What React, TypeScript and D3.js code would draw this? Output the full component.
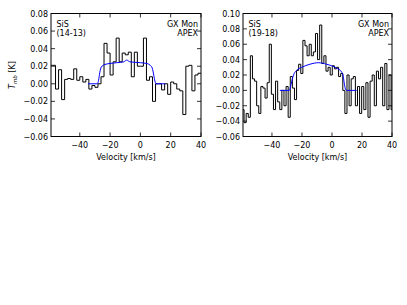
import React from 'react';
import * as d3 from 'd3';

// ---------- data ----------
const VEL_TICKS = [-40, -20, 0, 20, 40];
const LEFT_Y_TICKS = [-0.06, -0.04, -0.02, 0.0, 0.02, 0.04, 0.06, 0.08];
const RIGHT_Y_TICKS = [-0.06, -0.04, -0.02, 0.0, 0.02, 0.04, 0.06, 0.08, 0.1];

// SiS (14-13): channel start velocity, width, values (K)
const LEFT_V0 = -60;
const LEFT_DV = 2.0;
const LEFT_VALUES = [
  0.021, 0.021, -0.006, 0.016, -0.018, 0.005, 0.006, 0.005, 0.017, 0.004,
  0.008, 0.002, 0.005, -0.006, -0.002, -0.004, 0.0, 0.008, 0.046, 0.035,
  0.01, 0.025, 0.052, 0.025, 0.035, 0.033, 0.036, 0.008, 0.036, 0.02,
  0.02, 0.052, 0.004, 0.008, -0.02, 0.0, 0.0, -0.007, 0.0, -0.012,
  0.002, 0.0, -0.006, -0.008, -0.035, 0.02, 0.021, -0.008, 0.01, 0.012,
];
const LEFT_FIT_V = [-34.6, -28.5, -27.6, -26.8, -25.8, -23.4, -15.6, -11, -9, -7, 0, 4.5, 6.5, 7.8, 8.8, 9.6, 10.5, 16.4];
const LEFT_FIT_T = [0, 0, 0.004, 0.013, 0.019, 0.022, 0.024, 0.025, 0.027, 0.025, 0.024, 0.023, 0.021, 0.018, 0.01, 0.003, 0, 0];

// SiS (19-18)
const RIGHT_V0 = -60;
const RIGHT_DV = 1.4;
const RIGHT_VALUES = [
  -0.025, -0.042, -0.03, -0.035, 0.045, 0.015, 0.012, -0.02, -0.03, 0.005,
  0.003, -0.01, 0.01, 0.06, -0.005, -0.025, 0.012, -0.015, -0.025, 0.0,
  -0.02, 0.005, -0.035, 0.018, 0.003, -0.012, 0.026, 0.034, 0.022, 0.065,
  0.058, 0.045, 0.06, 0.045, 0.05, 0.074, 0.04, 0.085, 0.035, 0.045,
  0.025, 0.03, 0.02, 0.032, 0.028, 0.03, 0.018, 0.022, 0.0, -0.03,
  0.02, -0.02, 0.015, 0.018, -0.02, 0.005, -0.03, 0.005, -0.025, 0.01,
  -0.035, 0.012, 0.02, -0.02, 0.025, 0.015, 0.03, -0.02, 0.035, -0.025,
  0.02, -0.025,
];
const RIGHT_FIT_V = [-34.7, -28.4, -27.5, -26.9, -25.8, -23.6, -20.2, -14.7, -9.1, -3.6, 3.1, 6.4, 7.5, 8.3, 9.1, 10, 16.4];
const RIGHT_FIT_T = [0, 0, 0.006, 0.011, 0.019, 0.026, 0.03, 0.034, 0.036, 0.034, 0.029, 0.024, 0.018, 0.008, 0.001, 0, 0];

const FONT = 'DejaVu Sans';
const FS = 8;
const MINUS = '\u2212';

function fmtY(v: number) {
  const s = Math.abs(v).toFixed(2);
  return (v < -1e-9 ? MINUS : '') + s;
}
function fmtX(v: number) {
  return (v < 0 ? MINUS : '') + Math.abs(v).toString();
}

type PanelProps = {
  id: string;
  left: number;
  right: number;
  top: number;
  bottom: number;
  xDomain: [number, number];
  yDomain: [number, number];
  yTicks: number[];
  v0: number;
  dv: number;
  values: number[];
  fitV: number[];
  fitT: number[];
  line: string;
  showYLabel: boolean;
};

function Panel(p: PanelProps) {
  const x = d3.scaleLinear().domain(p.xDomain).range([p.left, p.right]);
  const y = d3.scaleLinear().domain(p.yDomain).range([p.bottom, p.top]);

  const steps: [number, number][] = p.values.map((v, i) => [p.v0 + i * p.dv, v]);
  steps.push([p.v0 + p.values.length * p.dv, p.values[p.values.length - 1]]);
  const stepPath = d3
    .line<[number, number]>()
    .x((d) => x(d[0]))
    .y((d) => y(d[1]))
    .curve(d3.curveStepAfter)(steps) as string;

  const fit: [number, number][] = p.fitV.map((v, i) => [v, p.fitT[i]]);
  const fitPath = d3
    .line<[number, number]>()
    .x((d) => x(d[0]))
    .y((d) => y(d[1]))
    .curve(d3.curveMonotoneX)(fit) as string;

  const tl = 4;
  const cx = (p.left + p.right) / 2;
  const cy = (p.top + p.bottom) / 2;

  return (
    <g fontFamily={FONT} fontSize={FS} fill="#000">
      <defs>
        <clipPath id={p.id}>
          <rect x={p.left} y={p.top} width={p.right - p.left} height={p.bottom - p.top} />
        </clipPath>
      </defs>
      <g clipPath={`url(#${p.id})`}>
        <path d={stepPath} fill="none" stroke={p.line} strokeWidth={1} />
        <path d={fitPath} fill="none" stroke="#0000ff" strokeWidth={1} />
      </g>
      <rect
        x={p.left}
        y={p.top}
        width={p.right - p.left}
        height={p.bottom - p.top}
        fill="none"
        stroke="#000"
        strokeWidth={1}
      />
      {VEL_TICKS.map((t) => (
        <g key={'x' + t}>
          <line x1={x(t)} x2={x(t)} y1={p.bottom} y2={p.bottom - tl} stroke="#000" strokeWidth={0.8} />
          <line x1={x(t)} x2={x(t)} y1={p.top} y2={p.top + tl} stroke="#000" strokeWidth={0.8} />
          <text x={x(t)} y={p.bottom + 11} textAnchor="middle">
            {fmtX(t)}
          </text>
        </g>
      ))}
      {p.yTicks.map((t) => (
        <g key={'y' + t}>
          <line x1={p.left} x2={p.left + tl} y1={y(t)} y2={y(t)} stroke="#000" strokeWidth={0.8} />
          <line x1={p.right} x2={p.right - tl} y1={y(t)} y2={y(t)} stroke="#000" strokeWidth={0.8} />
          <text x={p.left - 3} y={y(t) + 3} textAnchor="end">
            {fmtY(t)}
          </text>
        </g>
      ))}
      <text x={cx} y={p.bottom + 23} textAnchor="middle">
        Velocity [km/s]
      </text>
      {p.showYLabel && (
        <text transform={`translate(${p.left - 36},${cy}) rotate(-90)`} textAnchor="middle">
          <tspan fontStyle="italic">T</tspan>
          <tspan fontStyle="italic" fontSize={5.5} dy={1.6}>
            mb
          </tspan>
          <tspan dy={-1.6}> [K]</tspan>
        </text>
      )}
      <text x={p.left + 5.5} y={p.top + 13}>SiS</text>
      <text x={p.left + 5.5} y={p.top + 22.5}>
        {p.id === 'clipL' ? '(14-13)' : '(19-18)'}
      </text>
      <text x={p.right - 3} y={p.top + 13} textAnchor="end">GX Mon</text>
      <text x={p.right - 3} y={p.top + 22.5} textAnchor="end">APEX</text>
    </g>
  );
}

export default function App() {
  return (
    <svg
      width={407}
      height={305}
      viewBox="0 0 407 305"
      style={{ position: 'absolute', left: 0, top: 0, background: '#fff' }}
    >
      <rect width={407} height={305} fill="#fff" />
      <Panel
        id="clipL"
        left={51}
        right={201}
        top={13.5}
        bottom={136.5}
        xDomain={[-59, 40]}
        yDomain={[-0.06, 0.08]}
        yTicks={LEFT_Y_TICKS}
        v0={LEFT_V0}
        dv={LEFT_DV}
        values={LEFT_VALUES}
        fitV={LEFT_FIT_V}
        fitT={LEFT_FIT_T}
        line="#000"
        showYLabel={true}
      />
      <Panel
        id="clipR"
        left={243}
        right={392}
        top={13.5}
        bottom={136.5}
        xDomain={[-59.3, 40]}
        yDomain={[-0.06, 0.1]}
        yTicks={RIGHT_Y_TICKS}
        v0={RIGHT_V0}
        dv={RIGHT_DV}
        values={RIGHT_VALUES}
        fitV={RIGHT_FIT_V}
        fitT={RIGHT_FIT_T}
        line="#000"
        showYLabel={false}
      />
    </svg>
  );
}
